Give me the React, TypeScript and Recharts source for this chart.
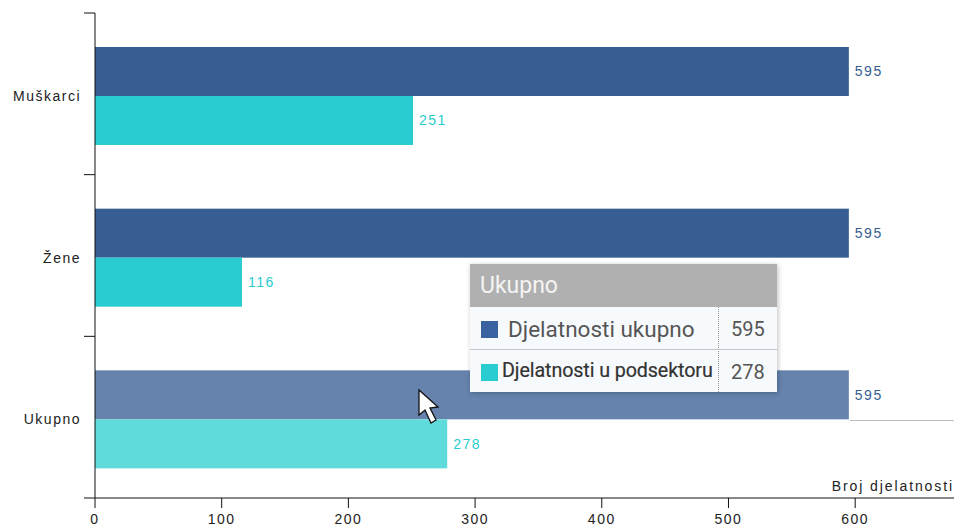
import React from "react";
import { BarChart, Bar, Cell, XAxis, YAxis, Tooltip, LabelList } from "recharts";

const categories = ["Muškarci", "Žene", "Ukupno"];
const ukupnoValues = [595, 595, 595];
const podsektorValues = [251, 116, 278];
const xTicks = [0, 100, 200, 300, 400, 500, 600];

const data = categories.map((name, i) => ({
  name,
  ukupno: ukupnoValues[i],
  podsektor: podsektorValues[i],
}));

const FONT = "'Liberation Sans', Arial, sans-serif";
const DARK = "#365e92";
const DARK_HOVER = "#6583ad";
const TEAL = "#29ccd0";
const TEAL_HOVER = "#5fdbdc";
const HOVER_INDEX = 2;

const PLOT_TOP = 13;
const PLOT_BOTTOM = 498;
const BAND = (PLOT_BOTTOM - PLOT_TOP) / categories.length;

const CategoryTick = (props: any) => {
  const { x, y, payload, index } = props;
  const axisX = x + 8;
  return (
    <g>
      <line x1={axisX - 11} x2={axisX} y1={y - BAND / 2} y2={y - BAND / 2} stroke="#111" />
      {index === categories.length - 1 && (
        <line x1={axisX - 11} x2={axisX} y1={y + BAND / 2} y2={y + BAND / 2} stroke="#111" />
      )}
      <text x={81} y={y + 7} textAnchor="end" fontSize={14} letterSpacing={1.5} fill="#222" fontFamily={FONT}>
        {payload.value}
      </text>
    </g>
  );
};

const ShiftedBar = (props: any) => (
  <rect x={props.x} y={props.y + 2} width={props.width} height={props.height} fill={props.fill} />
);

const TooltipBox = ({ active, payload }: any) => {
  if (!active || !payload || !payload.length) return null;
  const row = payload[0].payload;
  return (
    <div
      style={{
        width: 307,
        height: 128,
        background: "#f7fafc",
        boxShadow: "1px 1px 5px rgba(0,0,0,0.25)",
        fontFamily: "Roboto, sans-serif",
        position: "relative",
      }}
    >
      <div style={{ height: 43, background: "#b0b0b0", color: "#f4f4f4", fontSize: 23, lineHeight: "43px", paddingLeft: 10 }}>
        {row.name}
      </div>
      <div style={{ position: "absolute", left: 248, top: 43, height: 85, borderLeft: "1px dotted #999" }} />
      <div style={{ position: "absolute", left: 0, right: 0, top: 85, borderTop: "1px solid #c4c8cc" }} />
      <div style={{ position: "absolute", left: 11, top: 57, width: 17, height: 17, background: "#3a62a0" }} />
      <div style={{ position: "absolute", left: 38, top: 52, fontSize: 22.5, lineHeight: "26px", color: "#555", whiteSpace: "nowrap" }}>
        Djelatnosti ukupno
      </div>
      <div style={{ position: "absolute", left: 261, top: 52, fontSize: 20, lineHeight: "26px", color: "#555" }}>{row.ukupno}</div>
      <div style={{ position: "absolute", left: 11, top: 100, width: 17, height: 17, background: TEAL }} />
      <div style={{ position: "absolute", left: 32, top: 95, fontSize: 19.7, lineHeight: "24px", letterSpacing: -0.1, color: "#333", whiteSpace: "nowrap", WebkitTextStroke: "0.2px #333" }}>
        Djelatnosti u podsektoru
      </div>
      <div style={{ position: "absolute", left: 261, top: 95, fontSize: 20, lineHeight: "26px", color: "#555" }}>{row.podsektor}</div>
    </div>
  );
};

export default function App() {
  return (
    <div style={{ position: "absolute", left: 0, top: 0, width: 954, height: 527, background: "#fff", overflow: "hidden" }}>
      <BarChart
        width={954}
        height={527}
        data={data}
        layout="vertical"
        barGap={0}
        barSize={49}
        margin={{ top: PLOT_TOP, right: 0, bottom: 0, left: 0 }}
      >
        <XAxis
          type="number"
          domain={[0, 678]}
          ticks={xTicks}
          height={29}
          stroke="#111"
          tickSize={10}
          tickMargin={6}
          interval={0}
          tick={{ fontSize: 14, fill: "#222", fontFamily: FONT, letterSpacing: 1.5 }}
          label={{ value: "Broj djelatnosti", position: "insideTopRight", dy: -22, dx: 5, fontSize: 14, letterSpacing: 1.9, fill: "#222", fontFamily: FONT }}
        />
        <YAxis
          type="category"
          dataKey="name"
          width={95}
          stroke="#111"
          tickLine={false}
          interval={0}
          tick={<CategoryTick />}
        />
        <Tooltip
          active
          defaultIndex={HOVER_INDEX}
          position={{ x: 470, y: 264 }}
          cursor={false}
          isAnimationActive={false}
          allowEscapeViewBox={{ x: true, y: true }}
          content={<TooltipBox />}
        />
        <Bar dataKey="ukupno" fill={DARK} isAnimationActive={false} shape={<ShiftedBar />} activeBar={false}>
          {categories.map((c, i) => (
            <Cell key={c} fill={i === HOVER_INDEX ? DARK_HOVER : DARK} />
          ))}
          <LabelList dataKey="ukupno" position="right" offset={6} dy={2} fill={DARK} fontSize={14} letterSpacing={1.5} fontFamily={FONT} />
        </Bar>
        <Bar dataKey="podsektor" fill={TEAL} isAnimationActive={false} shape={<ShiftedBar />} activeBar={false}>
          {categories.map((c, i) => (
            <Cell key={c} fill={i === HOVER_INDEX ? TEAL_HOVER : TEAL} />
          ))}
          <LabelList dataKey="podsektor" position="right" offset={6} dy={2} fill={TEAL} fontSize={14} letterSpacing={1.5} fontFamily={FONT} />
        </Bar>
      </BarChart>
      <div style={{ position: "absolute", left: 850, top: 420, width: 104, height: 1, background: "#bbb" }} />
      <svg style={{ position: "absolute", left: 410, top: 385, pointerEvents: "none" }} width={40} height={50}>
        <path d="M9 5 L9 30 L15 25 L21 38 L26 35 L20 23 L28 22 Z" fill="#fff" stroke="#111" strokeWidth={1.3} />
      </svg>
    </div>
  );
}
